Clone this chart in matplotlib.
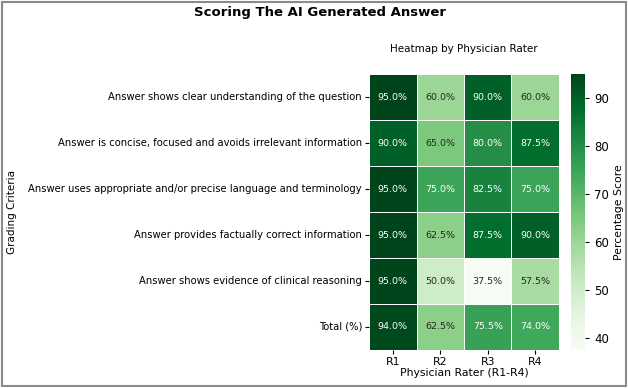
import numpy as np
import pandas as pd
import matplotlib
matplotlib.use("Agg")
import matplotlib.pyplot as plt
import seaborn as sns
from matplotlib.patches import Rectangle

raters = ["R1", "R2", "R3", "R4"]
criteria = [
    "Answer shows clear understanding of the question",
    "Answer is concise, focused and avoids irrelevant information",
    "Answer uses appropriate and/or precise language and terminology",
    "Answer provides factually correct information",
    "Answer shows evidence of clinical reasoning",
    "Total (%)",
]
r1 = [95.0, 90.0, 95.0, 95.0, 95.0, 94.0]
r2 = [60.0, 65.0, 75.0, 62.5, 50.0, 62.5]
r3 = [90.0, 80.0, 82.5, 87.5, 37.5, 75.5]
r4 = [60.0, 87.5, 75.0, 90.0, 57.5, 74.0]

df = pd.DataFrame(dict(zip(raters, [r1, r2, r3, r4])), index=criteria)
labels = df.map(lambda v: f"{v:.1f}%")

fig = plt.figure(figsize=(6.28, 3.88), dpi=100)
ax = fig.add_axes([0.5876, 0.098, 0.3025, 0.711])
cax = fig.add_axes([0.909, 0.098, 0.0223, 0.711])

sns.heatmap(df, ax=ax, cbar_ax=cax, cmap="Greens", annot=labels, fmt="",
            linewidths=0.5, linecolor="white",
            annot_kws={"fontsize": 6.8}, cbar_kws={"label": "Percentage Score"})

ax.set_xlabel("Physician Rater (R1-R4)", fontsize=7.8, labelpad=1)
ax.set_ylabel("Grading Criteria", fontsize=7.5, labelpad=8)
ax.tick_params(axis="y", labelsize=7.2, length=3, pad=2)
ax.tick_params(axis="x", labelsize=7.8, length=3, pad=2)
ax.set_title("Heatmap by Physician Rater", fontsize=7.5, pad=16)
cax.tick_params(labelsize=8.5, length=3)
cax.set_yticks([40, 50, 60, 70, 80, 90])
cax.yaxis.label.set_size(7.8)

fig.suptitle("Scoring The AI Generated Answer", fontsize=9.5, fontweight="bold",
             x=0.51, y=0.985)

fig.patches.append(Rectangle((0.003, 0.005), 0.994, 0.99, transform=fig.transFigure,
                             fill=False, edgecolor="#8a8a8a", linewidth=1.5))

fig.savefig("out.png", dpi=100)
